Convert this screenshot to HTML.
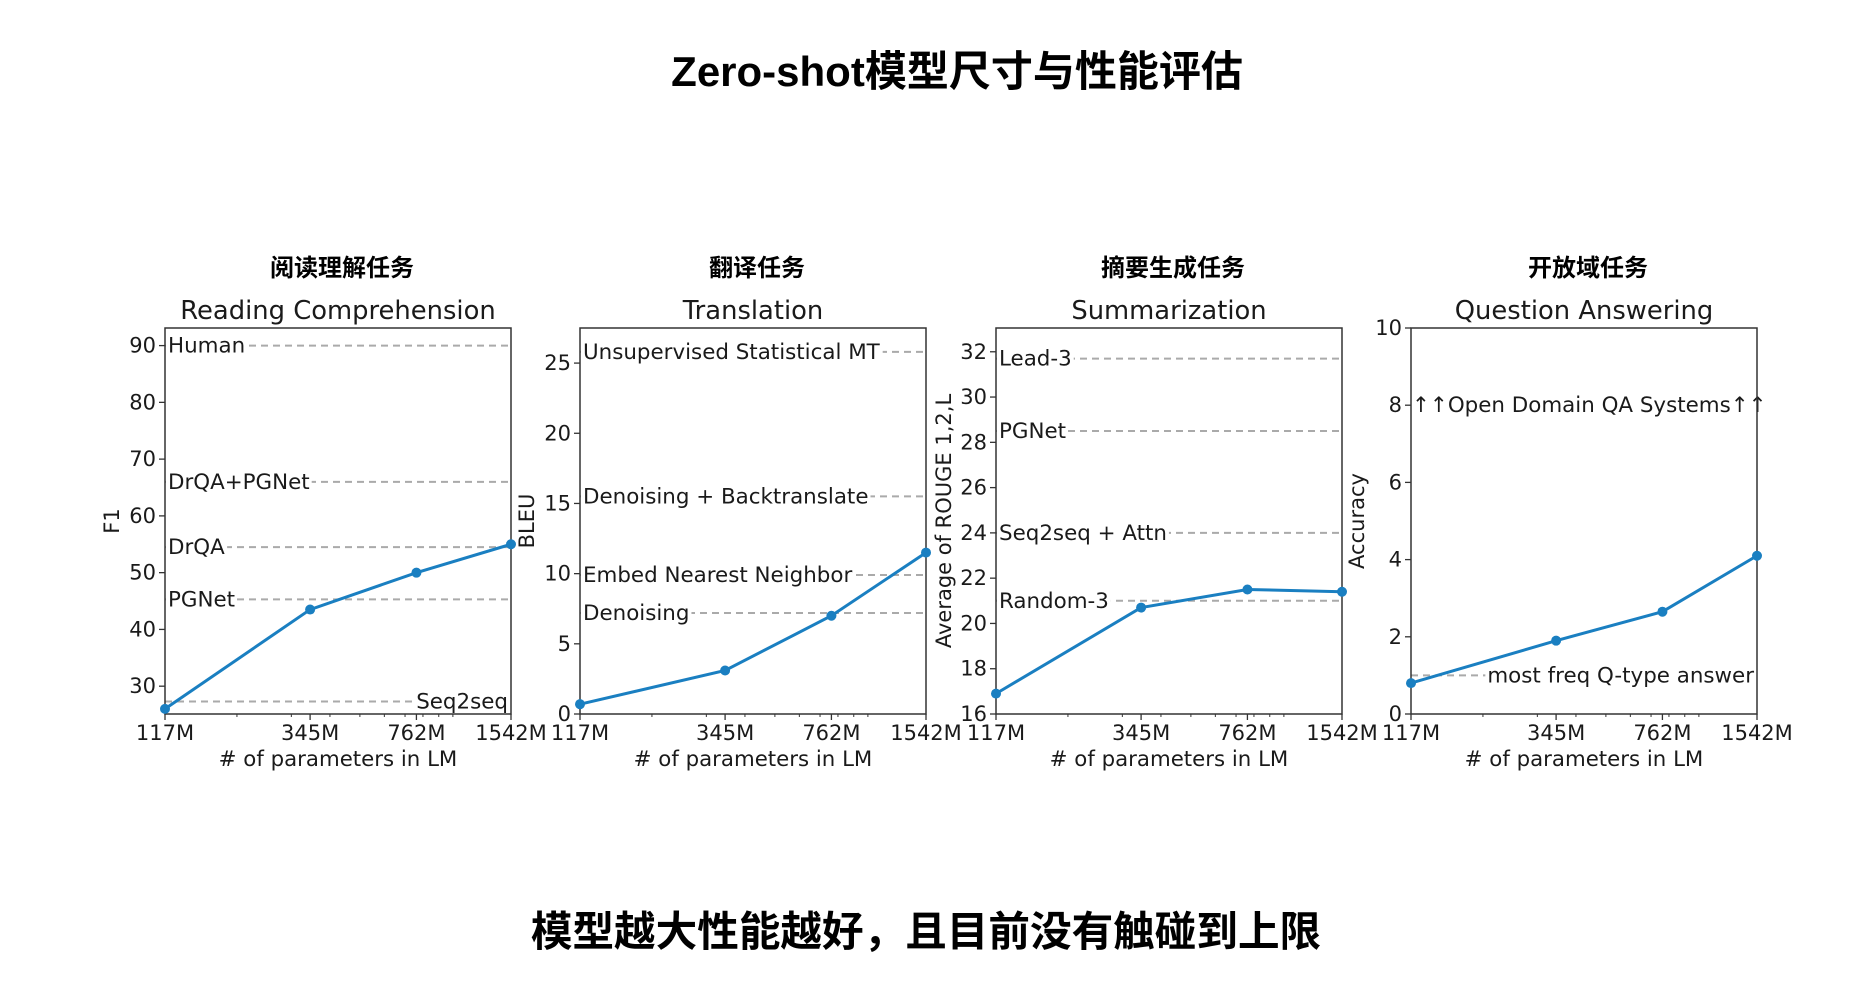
<!DOCTYPE html>
<html><head><meta charset="utf-8">
<style>
html,body{margin:0;padding:0;background:#fff;}
svg{display:block;}
text{font-family:"DejaVu Sans","Liberation Sans",sans-serif;fill:#1a1a1a;}
.cjk{font-family:"Liberation Sans","Noto Sans CJK SC",sans-serif;font-weight:bold;fill:#000;}
</style></head>
<body>
<svg id="chart" width="1860" height="992" viewBox="0 0 1860 992">
<text class="cjk" x="957" y="86" text-anchor="middle" font-size="42">Zero-shot模型尺寸与性能评估</text>
<text class="cjk" x="926" y="946" text-anchor="middle" font-size="41.6">模型越大性能越好，且目前没有触碰到上限</text>
</svg>
<script>
const xParams = [117, 345, 762, 1542];
const xTickLabels = ["117M", "345M", "762M", "1542M"];
const rcValues = [26, 43.5, 50, 55];
const trValues = [0.7, 3.1, 7.0, 11.5];
const smValues = [16.9, 20.7, 21.5, 21.4];
const qaValues = [0.8, 1.9, 2.65, 4.1];
const rcRefNames = ["Human", "DrQA+PGNet", "DrQA", "PGNet", "Seq2seq"];
const rcRefValues = [90, 66, 54.5, 45.3, 27.3];
const trRefNames = ["Unsupervised Statistical MT", "Denoising + Backtranslate", "Embed Nearest Neighbor", "Denoising"];
const trRefValues = [25.8, 15.5, 9.9, 7.2];
const smRefNames = ["Lead-3", "PGNet", "Seq2seq + Attn", "Random-3"];
const smRefValues = [31.7, 28.5, 24.0, 21.0];
const qaRefNames = ["most freq Q-type answer"];
const qaRefValues = [1.0];
const rcTicks = [30, 40, 50, 60, 70, 80, 90];
const trTicks = [0, 5, 10, 15, 20, 25];
const smTicks = [16, 18, 20, 22, 24, 26, 28, 30, 32];
const qaTicks = [0, 2, 4, 6, 8, 10];

const NS = "http://www.w3.org/2000/svg";
const svg = document.getElementById("chart");
function mk(tag, attrs, parent) {
  const e = document.createElementNS(NS, tag);
  for (const k in attrs) e.setAttribute(k, attrs[k]);
  (parent || svg).appendChild(e);
  return e;
}

const panels = [
  {key:"reading", cn:"阅读理解任务", en:"Reading Comprehension", yl:"F1", left:165, ymin:25.1, ymax:93.1, ticks:rcTicks, vals:rcValues, rn:rcRefNames, rv:rcRefValues, ylx:112},
  {key:"translation", cn:"翻译任务", en:"Translation", yl:"BLEU", left:580, ymin:0, ymax:27.5, ticks:trTicks, vals:trValues, rn:trRefNames, rv:trRefValues, ylx:527},
  {key:"summarization", cn:"摘要生成任务", en:"Summarization", yl:"Average of ROUGE 1,2,L", left:996, ymin:16, ymax:33.05, ticks:smTicks, vals:smValues, rn:smRefNames, rv:smRefValues, ylx:944},
  {key:"qa", cn:"开放域任务", en:"Question Answering", yl:"Accuracy", left:1411, ymin:0, ymax:10, ticks:qaTicks, vals:qaValues, rn:qaRefNames, rv:qaRefValues, ylx:1357}
];
const TOP = 328, BOT = 714, W = 346;
const LINE = "#1a7fc1";

panels.forEach(function(p) {
  const g = mk("g", {});
  
  
  const L = p.left, R = p.left + W, cx = L + W / 2;
  const xs = v => L + Math.log(v / xParams[0]) / Math.log(xParams[xParams.length - 1] / xParams[0]) * W;
  const ys = v => BOT - (v - p.ymin) / (p.ymax - p.ymin) * (BOT - TOP);

  const cn = mk("text", {x: cx + 4, y: 276, "text-anchor": "middle", "font-size": 24, class: "cjk"}, g);
  cn.textContent = p.cn;
  
  
  const en = mk("text", {x: cx, y: 319, "text-anchor": "middle", "font-size": 25.8}, g);
  en.textContent = p.en;
  
  

  p.rn.forEach(function(name, i) {
    const y = ys(p.rv[i]);
    const dl = mk("line", {x1: L, x2: R, y1: y, y2: y, stroke: "#aaa", "stroke-width": 2, "stroke-dasharray": "7,5"}, g);
    
    
    const right = (name === "Seq2seq" || name === "most freq Q-type answer");
    const t = mk("text", {x: right ? R - 3 : L + 3, y: y + 7, "font-size": 21.4, "text-anchor": right ? "end" : "start"}, g);
    t.textContent = name;
    
    
    const bb = t.getBBox();
    const bg = mk("rect", {x: bb.x - 2, y: y - 3, width: bb.width + 4, height: 6, fill: "#fff"}, g);
    
    
    g.insertBefore(bg, t);
  });
  if (p.key === "qa") {
    const t = mk("text", {x: L + 1, y: ys(8) + 7, "font-size": 21.4}, g);
    t.textContent = "↑↑Open Domain QA Systems↑↑";
    
    
  }

  const fr = mk("rect", {x: L, y: TOP, width: W, height: BOT - TOP, fill: "none", stroke: "#333", "stroke-width": 1.5}, g);
  
  

  p.ticks.forEach(function(v) {
    const y = ys(v);
    const tk = mk("line", {x1: L - 6, x2: L, y1: y, y2: y, stroke: "#333", "stroke-width": 1.3}, g);
    
    
    const tl = mk("text", {x: L - 9, y: y + 7, "font-size": 21, "text-anchor": "end"}, g);
    tl.textContent = v;
    
    
  });
  for (let m = 200; m <= 1500; m += 100) {
    if (m > 1000 && m % 1000 !== 0) continue;
    const x = xs(m);
    const mt = mk("line", {x1: x, x2: x, y1: BOT, y2: BOT + 3, stroke: "#333", "stroke-width": 1}, g);
    
    
  }
  xParams.forEach(function(v, i) {
    const x = xs(v);
    const tk = mk("line", {x1: x, x2: x, y1: BOT, y2: BOT + 6, stroke: "#333", "stroke-width": 1.3}, g);
    
    
    const tl = mk("text", {x: x, y: 740, "font-size": 21, "text-anchor": "middle"}, g);
    tl.textContent = xTickLabels[i];
    
    
  });
  const xl = mk("text", {x: cx, y: 766, "font-size": 21.3, "text-anchor": "middle"}, g);
  xl.textContent = "# of parameters in LM";
  
  
  const ycen = (TOP + BOT) / 2;
  const yl = mk("text", {x: p.ylx, y: ycen, "font-size": 21, "text-anchor": "middle", transform: "rotate(-90 " + p.ylx + " " + ycen + ")", "dominant-baseline": "central"}, g);
  yl.textContent = p.yl;
  
  

  const pts = p.vals.map((v, i) => xs(xParams[i]) + "," + ys(v)).join(" ");
  const pl = mk("polyline", {points: pts, fill: "none", stroke: LINE, "stroke-width": 3}, g);
  
  
  p.vals.forEach(function(v, i) {
    const c = mk("circle", {cx: xs(xParams[i]), cy: ys(v), r: 5, fill: LINE}, g);
    
    
  });
});
</script>
</body></html>
